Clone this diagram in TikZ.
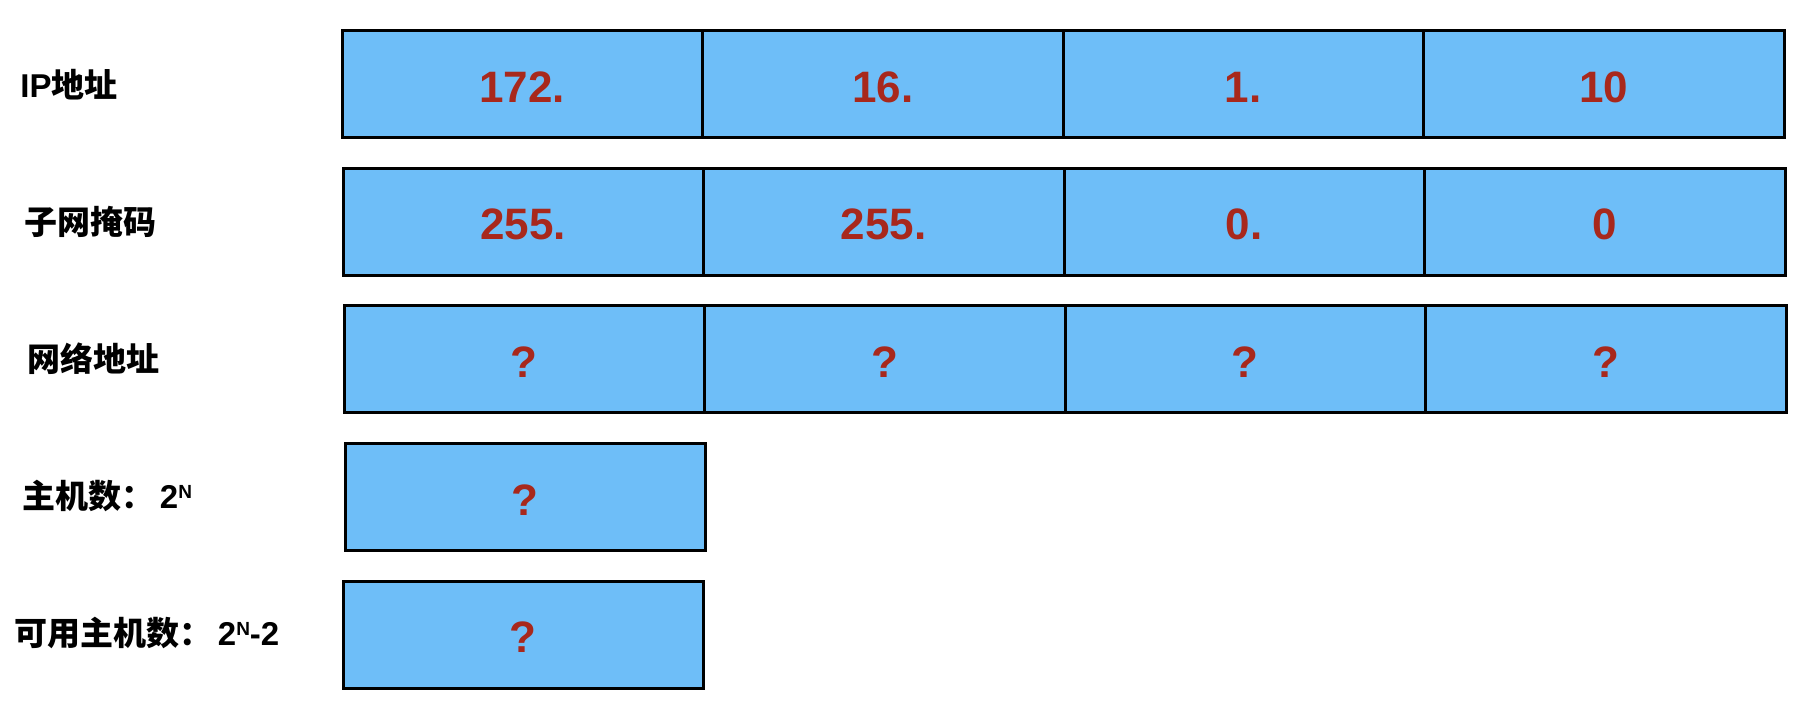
\documentclass[tikz,border=0pt]{standalone}
\usepackage{fontspec}
\setmainfont{Liberation Sans}
\newfontfamily\cjk{Noto Sans CJK SC}
\usepackage{xcolor}
\definecolor{cellblue}{RGB}{110, 190, 248}
\definecolor{digitred}{RGB}{168, 40, 28}
\usetikzlibrary{positioning}
\newcommand{\supN}{\raisebox{5pt}{\fontsize{9.5}{11}\selectfont N}}

\begin{document}
\begin{tikzpicture}[x=0.5pt, y=-0.5pt,
        cell/.style={rectangle, draw=black, fill=cellblue, line width=1.5pt, outer sep=0pt, inner sep=0pt, minimum width=180.25pt, minimum height=53.5pt, text height=18.25pt, text depth=0pt, text=digitred, font=\fontsize{22}{26}\selectfont\bfseries},
        firstcell/.style={cell, anchor=west},
        rowlabel/.style={anchor=west, inner sep=0pt, font=\fontsize{16.5}{19}\selectfont\bfseries}]

        \useasboundingbox (0,0) rectangle (1812,714);

        % row labels
        \node [rowlabel] (lip) at (20,84.25) {IP{\cjk 地址}};
        \node [rowlabel] (lmask) at (24,221.5) {\cjk 子网掩码};
        \node [rowlabel] (lnet) at (27,358.75) {\cjk 网络地址};
        \node [rowlabel] (lhosts) at (22,496) {{\cjk 主机数：}\,2\supN};
        \node [rowlabel] (lusable) at (14,633.25) {{\cjk 可用主机数：}\,2\supN-2};

        % IP address
        \node [firstcell] (ip1) at (342,84.25) {172.};
        \node [cell, right=0pt of ip1] (ip2) {16.};
        \node [cell, right=0pt of ip2] (ip3) {1.};
        \node [cell, right=0pt of ip3] (ip4) {10};

        % subnet mask
        \node [firstcell] (mask1) at (343,221.5) {255.};
        \node [cell, right=0pt of mask1] (mask2) {255.};
        \node [cell, right=0pt of mask2] (mask3) {0.};
        \node [cell, right=0pt of mask3] (mask4) {0};

        % network address
        \node [firstcell] (net1) at (344,358.75) {?};
        \node [cell, right=0pt of net1] (net2) {?};
        \node [cell, right=0pt of net2] (net3) {?};
        \node [cell, right=0pt of net3] (net4) {?};

        % host counts
        \node [firstcell] (hosts) at (345,497) {?};
        \node [firstcell] (usable) at (343,634.5) {?};
    \end{tikzpicture}
\end{document}
